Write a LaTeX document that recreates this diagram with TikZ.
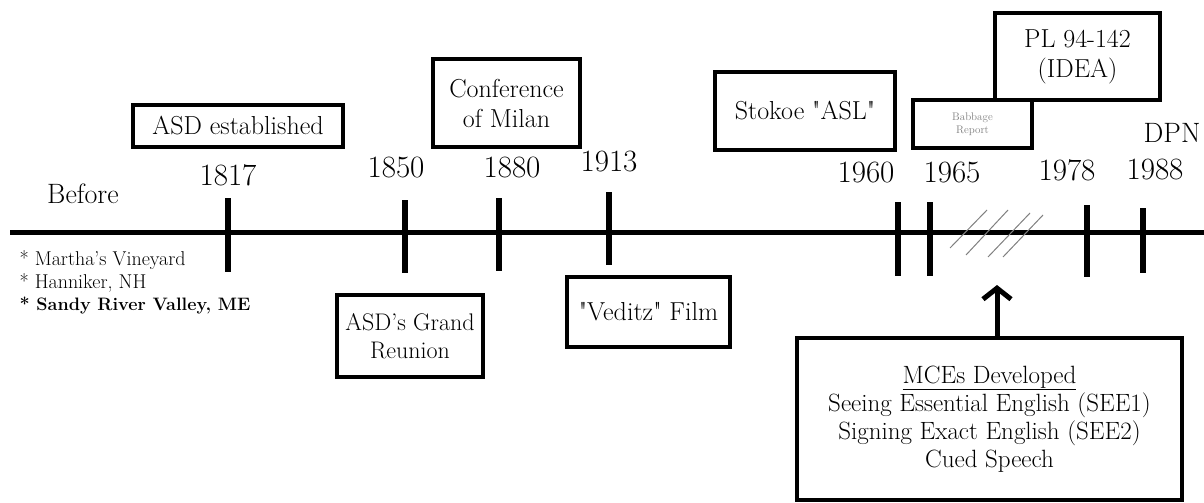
\documentclass[tikz,border=0pt]{standalone}
\usepackage{fontspec}
\usetikzlibrary{arrows.meta}

\begin{document}
\begin{tikzpicture}[x=1pt,y=-1pt,
  eventbox/.style={draw,rectangle,line width=4pt,fill=white,align=center,inner sep=0pt,
    font=\fontsize{26}{30}\selectfont},
  yearlabel/.style={font=\fontsize{31}{34}\selectfont},
  tickmark/.style={line width=6pt},
  placelabel/.style={anchor=west,font=\fontsize{20}{22}\selectfont}]

  \useasboundingbox (0,0) rectangle (1204,503);

  % the time line
  \draw[line width=5pt] (10,232) -- (1204,232);

  \draw[tickmark] (228,198) -- (228,272);
  \draw[tickmark] (405,200) -- (405,273);
  \draw[tickmark] (499,198) -- (499,271);
  \draw[tickmark] (609,192) -- (609,265);
  \draw[tickmark] (898,202) -- (898,276);
  \draw[tickmark] (930,202) -- (930,276);
  \draw[tickmark] (1087,205) -- (1087,277);
  \draw[tickmark] (1143,208) -- (1143,273);

  % years
  \node[font=\fontsize{28}{30}\selectfont] at (83,194) (before) {Before};
  \node[yearlabel] at (228,175) (y1817) {1817};
  \node[yearlabel] at (396,168) (y1850) {1850};
  \node[yearlabel] at (512,168) (y1880) {1880};
  \node[yearlabel] at (609,162) (y1913) {1913};
  \node[yearlabel] at (866,173) (y1960) {1960};
  \node[yearlabel] at (952,173) (y1965) {1965};
  \node[yearlabel] at (1067,170) (y1978) {1978};
  \node[yearlabel] at (1155,170) (y1988) {1988};
  \node[yearlabel,font=\fontsize{28}{30}\selectfont] at (1172,133) (dpn) {DPN};

  % before 1817
  \node[placelabel] at (16,260) (p1) {* Martha's Vineyard};
  \node[placelabel] at (16,283) (p2) {* Hanniker, NH};
  \node[placelabel,font=\fontsize{18}{22}\bfseries] at (16,306) (p3) {* Sandy River Valley, ME};

  % events
  \node[eventbox,minimum width=210pt,minimum height=42pt] at (238,126) (asd) {ASD established};
  \node[eventbox,minimum width=147pt,minimum height=88pt] at (506.5,103) (milan) {Conference\\of Milan};
  \node[eventbox,minimum width=146pt,minimum height=82pt,
    font=\fontsize{24}{28}\selectfont] at (410,336) (reunion) {ASD's Grand\\Reunion};
  \node[eventbox,minimum width=163pt,minimum height=70pt] at (648.5,312) (veditz) {\textquotedbl Veditz\textquotedbl{} Film};
  \node[eventbox,minimum width=180pt,minimum height=78pt] at (805,111) (stokoe) {Stokoe \textquotedbl ASL\textquotedbl};
  \node[eventbox,minimum width=119pt,minimum height=48pt,text=gray,
    font=\fontsize{11}{13}\selectfont] at (972.5,124) (babbage) {Babbage\\Report};
  \node[eventbox,minimum width=165pt,minimum height=87pt] at (1077.5,56.5) (idea) {PL 94-142\\(IDEA)};

  % hatching
  \draw[gray,line width=1pt] (950,248) -- (987,210);
  \draw[gray,line width=1pt] (966,255) -- (1008,210);
  \draw[gray,line width=1pt] (988,257) -- (1030,213);
  \draw[gray,line width=1pt] (1003,257) -- (1043,215);

  \node[eventbox,minimum width=385pt,minimum height=162pt,
    font=\fontsize{25}{28}\selectfont] at (989.5,419) (mce)
    {\underline{MCEs Developed}\\Seeing Essential English (SEE1)\\Signing Exact English (SEE2)\\Cued Speech};

  \coordinate (tip) at (997,285);
  \draw[line width=5pt,-{Straight Barb[length=11pt,width=28pt,line width=5pt]}] (mce.north -| tip) -- (tip);

\end{tikzpicture}
\end{document}
